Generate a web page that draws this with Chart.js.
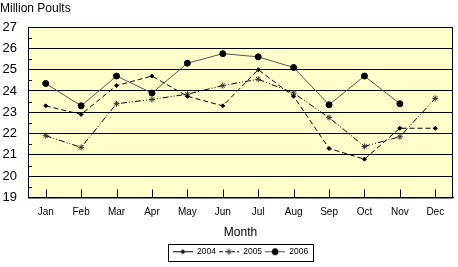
<!DOCTYPE html>
<html>
<head>
<meta charset="utf-8">
<script src="https://cdn.jsdelivr.net/npm/chart.js@4/dist/chart.umd.min.js"></script>
<style>
  html, body { margin: 0; padding: 0; background: #fff; }
  #wrap { width: 458px; height: 267px; }
</style>
</head>
<body>
<div id="wrap"><canvas id="chart" width="458" height="267"></canvas></div>
<script>
const months = ['Jan', 'Feb', 'Mar', 'Apr', 'May', 'Jun', 'Jul', 'Aug', 'Sep', 'Oct', 'Nov', 'Dec'];
const poults2004 = [23.3, 22.9, 24.25, 24.7, 23.75, 23.3, 25.0, 23.75, 21.3, 20.8, 22.25, 22.25];
const poults2005 = [21.9, 21.35, 23.4, 23.6, 23.85, 24.25, 24.55, 23.9, 22.75, 21.4, 21.85, 23.65];
const poults2006 = [24.35, 23.3, 24.7, 23.9, 25.3, 25.75, 25.6, 25.1, 23.35, 24.7, 23.4, null];
const seriesNames = ['2004', '2005', '2006'];

const FONT = "'Liberation Sans', Arial, sans-serif";

// little line+marker pictures for the legend
function makeIcon(color, dash, style, radius, markerColor) {
    const c = document.createElement('canvas');
    c.width = 20;
    c.height = 9;
    const g = c.getContext('2d');
    g.strokeStyle = color;
    g.lineWidth = 1;
    g.setLineDash(dash);
    g.beginPath();
    g.moveTo(0, 4.5);
    g.lineTo(20, 4.5);
    g.stroke();
    g.setLineDash([]);
    g.fillStyle = markerColor;
    g.strokeStyle = markerColor;
    Chart.helpers.drawPoint(g, {pointStyle: style, radius, borderWidth: 1}, 10, 4.5);
    return c;
}

const legendIcons = [
    makeIcon('#000', [], 'rectRot', 2, '#000'),
    makeIcon('#000', [4, 2], 'star', 3, '#333'),
    makeIcon('#555', [], 'circle', 3, '#000')
];

const plotDecor = {
    id: 'plotDecor',
    beforeDraw(chart) {
        const {ctx, chartArea: a} = chart;
        ctx.save();
        ctx.fillStyle = '#FFFFCC';
        ctx.fillRect(a.left, a.top, a.right - a.left, a.bottom - a.top);
        ctx.restore();
    },
    beforeDatasetsDraw(chart) {
        const {ctx, chartArea: a, scales} = chart;
        ctx.save();
        ctx.strokeStyle = '#000';
        ctx.lineWidth = 1;
        ctx.beginPath();
        for (let v = 19.5; v < 27; v += 1) {
            const y = Math.round(scales.y.getPixelForValue(v)) + 0.5;
            ctx.moveTo(a.left, y);
            ctx.lineTo(a.left + 4, y);
        }
        months.forEach((m, i) => {
            const x = Math.round(scales.x.getPixelForValue(i)) + 0.5;
            ctx.moveTo(x, a.bottom);
            ctx.lineTo(x, a.bottom - 8);
        });
        ctx.stroke();
        ctx.strokeRect(a.left + 0.5, a.top + 0.5, a.right - a.left - 1, a.bottom - a.top);
        ctx.restore();
    },
    afterDraw(chart) {
        const boxes = chart.legend.legendHitBoxes;
        if (!boxes || !boxes.length) return;
        const left = Math.min(...boxes.map(b => b.left)) - 5;
        const right = Math.max(...boxes.map(b => b.left + b.width)) + 5;
        const top = Math.min(...boxes.map(b => b.top)) - 4;
        const bottom = Math.max(...boxes.map(b => b.top + b.height)) + 4;
        const {ctx} = chart;
        ctx.save();
        ctx.strokeStyle = '#000';
        ctx.lineWidth = 1;
        ctx.strokeRect(Math.round(left) + 0.5, Math.round(top) + 0.5, Math.round(right - left), Math.round(bottom - top));
        ctx.restore();
    }
};

new Chart(document.getElementById('chart'), {
    type: 'line',
    data: {
        labels: months,
        datasets: [{
            label: seriesNames[0],
            data: poults2004,
            borderColor: '#000',
            borderWidth: 1,
            borderDash: [5, 3],
            pointStyle: 'rectRot',
            pointRadius: 2,
            pointBackgroundColor: '#000',
            pointBorderColor: '#000',
            tension: 0
        }, {
            label: seriesNames[1],
            data: poults2005,
            borderColor: '#000',
            borderWidth: 1,
            borderDash: [6, 2, 1, 2, 1, 2],
            pointStyle: 'star',
            pointRadius: 3,
            pointBackgroundColor: '#333',
            pointBorderColor: '#333',
            tension: 0
        }, {
            label: seriesNames[2],
            data: poults2006,
            borderColor: '#555',
            borderWidth: 1,
            pointStyle: 'circle',
            pointRadius: 3,
            pointBackgroundColor: '#000',
            pointBorderColor: '#000',
            tension: 0
        }]
    },
    options: {
        responsive: false,
        animation: false,
        devicePixelRatio: 1,
        layout: {padding: {top: 0, left: 0, right: 1, bottom: 1}},
        plugins: {
            title: {
                display: true,
                text: 'Million Poults',
                align: 'start',
                color: '#000',
                font: {family: FONT, size: 12, weight: 'normal'},
                padding: {top: 1, bottom: 11.6}
            },
            legend: {
                position: 'bottom',
                fullSize: false,
                labels: {
                    usePointStyle: true,
                    pointStyleWidth: 20,
                    color: '#000',
                    padding: 3,
                    font: {family: FONT, size: 8.5},
                    generateLabels(chart) {
                        const items = Chart.defaults.plugins.legend.labels.generateLabels(chart);
                        items.forEach((it, i) => { it.pointStyle = legendIcons[i]; });
                        return items;
                    }
                }
            },
            tooltip: {enabled: false}
        },
        scales: {
            x: {
                offset: true,
                grid: {display: false, drawTicks: false},
                border: {color: '#000', width: 1},
                ticks: {color: '#000', padding: 9, font: {family: FONT, size: 10}, maxRotation: 0},
                title: {
                    display: true,
                    text: 'Month',
                    color: '#000',
                    font: {family: FONT, size: 12},
                    padding: {top: 4, bottom: 5}
                },
                afterFit(scale) { scale.height = 47; }
            },
            y: {
                min: 19,
                max: 27,
                grid: {color: '#000', lineWidth: 1, drawTicks: false},
                border: {color: '#000', width: 1},
                ticks: {stepSize: 1, color: '#000', padding: 11, font: {family: FONT, size: 13}},
                afterFit(scale) { scale.width = 28; }
            }
        }
    },
    plugins: [plotDecor]
});
</script>
</body>
</html>
